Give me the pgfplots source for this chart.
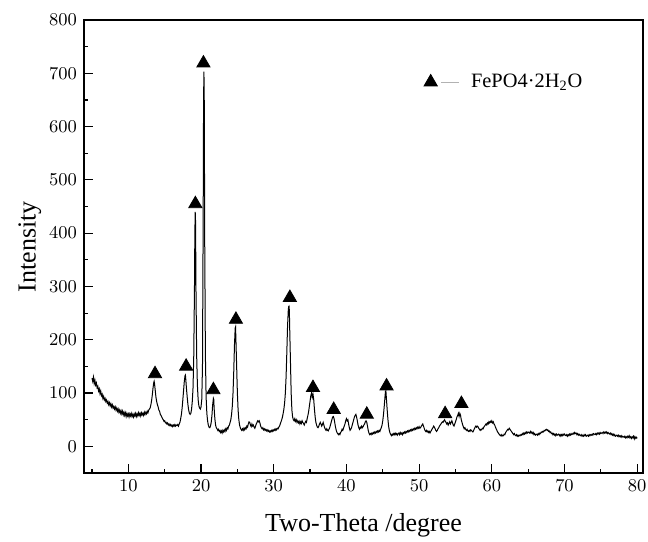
\documentclass[border=0pt]{standalone}
\usepackage{pgfplots}
\pgfplotsset{compat=1.18}
\usepackage{fontspec}
\setmainfont{Liberation Serif}
\begin{document}
\begin{tikzpicture}
\useasboundingbox (-42pt,-34pt) rectangle (282pt,236.5pt);
\begin{axis}[
 at={(0,0)}, anchor=south west,
 width=279.5pt, height=226.5pt, scale only axis,
 xmin=3.9, xmax=80.8, ymin=-50, ymax=800,
 xtick={10,20,...,80}, minor xtick={5,15,...,75},
 ytick={0,100,...,800}, minor ytick={50,150,...,750},
 xtick pos=bottom, ytick pos=left, tick align=inside,
 major tick length=4.5pt, minor tick length=2.2pt,
 axis line style={line width=0.7pt},
 every tick/.style={line width=0.6pt, black},
 tick label style={font=\fontsize{9}{10}\selectfont},
 xlabel={Two-Theta /degree}, ylabel={Intensity},
 label style={font=\fontsize{13}{15}\selectfont},
 xlabel style={at={(axis description cs:0.5,-0.115)}, anchor=center},
 ylabel style={at={(axis description cs:-0.097,0.5)}, anchor=center},
 legend style={draw=none, fill=none, inner sep=0pt, at={(axis description cs:0.607,0.863)}, anchor=west, font=\fontsize{10.2}{12}\selectfont},
 legend cell align=left,
]
\addplot[black, line width=0.5pt, no markers, forget plot] coordinates {
(5.0,128)(5.1,122)(5.2,130)(5.3,118)(5.4,124)(5.5,115)(5.6,119)(5.7,110)(5.8,113)(5.9,104)
(6.0,108)(6.1,99)(6.2,104)(6.3,95)(6.4,98)(6.5,90)(6.6,94)(6.7,87)(6.8,90)(6.9,84)
(7.0,87)(7.1,81)(7.2,84)(7.3,78)(7.4,82)(7.5,76)(7.6,80)(7.7,74)(7.8,78)(7.9,72)
(8.0,75)(8.1,70)(8.2,74)(8.3,68)(8.4,72)(8.5,66)(8.6,70)(8.7,64)(8.8,68)(8.9,62)
(9.0,67)(9.1,61)(9.2,66)(9.3,59)(9.4,64)(9.5,58)(9.6,63)(9.7,56)(9.8,62)(9.9,57)
(10.0,61)(10.1,55)(10.2,61)(10.3,57)(10.4,62)(10.5,56)(10.6,60)(10.7,55)(10.8,61)(10.9,57)
(11.0,62)(11.1,56)(11.2,61)(11.3,57)(11.4,63)(11.5,58)(11.6,62)(11.7,57)(11.8,63)(11.9,59)
(12.0,62)(12.1,58)(12.2,64)(12.3,60)(12.4,64)(12.5,61)(12.6,66)(12.7,63)(12.8,68)(12.9,70)
(13.0,72)(13.1,78)(13.2,86)(13.3,97)(13.4,110)(13.5,120)(13.55,122)(13.6,118)(13.7,105)(13.8,92)
(13.9,84)(14.0,78)(14.1,74)(14.2,68)(14.3,66)(14.4,60)(14.5,58)(14.6,55)(14.7,52)(14.8,50)
(14.9,47)(15.0,48)(15.1,44)(15.2,45)(15.3,42)(15.4,44)(15.5,40)(15.6,42)(15.7,39)(15.8,41)
(15.9,38)(16.0,40)(16.1,37)(16.2,40)(16.3,38)(16.4,41)(16.5,38)(16.6,40)(16.7,39)(16.8,41)
(16.9,38)(17.0,42)(17.1,45)(17.2,52)(17.3,60)(17.4,72)(17.5,88)(17.6,105)(17.7,122)(17.8,133)
(17.85,134)(17.9,126)(18.0,108)(18.1,92)(18.2,78)(18.3,68)(18.4,62)(18.5,60)(18.6,62)(18.7,70)
(18.8,85)(18.9,110)(19.0,170)(19.1,300)(19.15,400)(19.2,440)(19.25,420)(19.3,300)(19.4,170)(19.5,115)
(19.6,88)(19.7,76)(19.8,72)(19.9,70)(20.0,74)(20.1,88)(20.2,150)(20.3,450)(20.35,650)(20.4,703)
(20.45,640)(20.5,400)(20.6,170)(20.7,92)(20.8,62)(20.9,48)(21.0,40)(21.1,36)(21.2,35)(21.3,38)
(21.4,45)(21.5,58)(21.6,78)(21.7,90)(21.75,88)(21.8,72)(21.9,52)(22.0,40)(22.1,35)(22.2,33)
(22.3,30)(22.4,32)(22.5,28)(22.6,30)(22.7,26)(22.8,29)(22.9,25)(23.0,30)(23.1,27)(23.2,31)
(23.3,28)(23.4,33)(23.5,30)(23.6,35)(23.7,33)(23.8,38)(23.9,40)(24.0,45)(24.1,50)(24.2,60)
(24.3,75)(24.4,100)(24.5,140)(24.6,190)(24.7,222)(24.75,224)(24.8,200)(24.9,150)(25.0,100)(25.1,68)
(25.2,50)(25.3,40)(25.4,35)(25.5,32)(25.6,30)(25.7,33)(25.8,30)(25.9,34)(26.0,31)(26.1,35)
(26.2,33)(26.3,38)(26.4,36)(26.5,42)(26.6,46)(26.7,45)(26.8,40)(26.9,37)(27.0,42)(27.1,38)
(27.2,40)(27.3,36)(27.4,34)(27.5,38)(27.6,42)(27.7,45)(27.8,48)(27.9,46)(28.0,48)(28.1,44)
(28.2,38)(28.3,35)(28.4,33)(28.5,35)(28.6,31)(28.7,33)(28.8,30)(28.9,32)(29.0,29)(29.1,31)
(29.2,28)(29.3,30)(29.4,27)(29.5,29)(29.6,27)(29.7,30)(29.8,28)(29.9,31)(30.0,29)(30.1,32)
(30.2,30)(30.3,33)(30.4,31)(30.5,34)(30.6,33)(30.7,36)(30.8,38)(30.9,42)(31.0,46)(31.1,50)
(31.2,55)(31.3,62)(31.4,70)(31.5,82)(31.6,100)(31.7,130)(31.8,175)(31.9,225)(32.0,255)(32.05,262)
(32.1,263)(32.15,255)(32.2,220)(32.3,160)(32.4,100)(32.5,68)(32.6,55)(32.7,50)(32.8,48)(32.9,52)
(33.0,47)(33.1,50)(33.2,45)(33.3,48)(33.4,44)(33.5,47)(33.6,42)(33.7,46)(33.8,43)(33.9,48)
(34.0,45)(34.1,43)(34.2,40)(34.3,44)(34.4,47)(34.5,45)(34.6,52)(34.7,58)(34.8,65)(34.9,75)
(35.0,85)(35.1,95)(35.2,100)(35.3,92)(35.4,98)(35.5,88)(35.6,70)(35.7,55)(35.8,45)(35.9,40)
(36.0,36)(36.1,35)(36.2,38)(36.3,42)(36.4,45)(36.5,42)(36.6,38)(36.7,41)(36.8,45)(36.9,40)
(37.0,35)(37.1,32)(37.2,30)(37.3,33)(37.4,30)(37.5,29)(37.6,32)(37.7,35)(37.8,40)(37.9,45)
(38.0,50)(38.1,55)(38.2,56)(38.3,52)(38.4,44)(38.5,36)(38.6,30)(38.7,26)(38.8,24)(38.9,22)
(39.0,24)(39.1,22)(39.2,26)(39.3,28)(39.4,32)(39.5,30)(39.6,34)(39.7,38)(39.8,42)(39.9,48)
(40.0,52)(40.1,48)(40.2,50)(40.3,42)(40.4,35)(40.5,30)(40.6,32)(40.7,35)(40.8,40)(40.9,45)
(41.0,50)(41.1,55)(41.2,58)(41.3,60)(41.4,55)(41.5,48)(41.6,40)(41.7,35)(41.8,32)(41.9,36)
(42.0,34)(42.1,38)(42.2,35)(42.3,37)(42.4,40)(42.5,42)(42.6,46)(42.7,48)(42.8,45)(42.9,38)
(43.0,30)(43.1,25)(43.2,22)(43.3,24)(43.4,22)(43.5,25)(43.6,23)(43.7,26)(43.8,24)(43.9,27)
(44.0,25)(44.1,28)(44.2,26)(44.3,29)(44.4,27)(44.5,30)(44.6,28)(44.7,32)(44.8,35)(44.9,40)
(45.0,48)(45.1,60)(45.2,75)(45.3,92)(45.35,100)(45.4,96)(45.45,100)(45.5,90)(45.6,70)(45.7,52)
(45.8,38)(45.9,30)(46.0,25)(46.1,22)(46.2,20)(46.3,23)(46.4,21)(46.5,24)(46.6,22)(46.7,25)
(46.8,22)(46.9,24)(47.0,21)(47.1,24)(47.2,25)(47.3,22)(47.4,26)(47.5,23)(47.6,25)(47.7,22)
(47.8,26)(47.9,24)(48.0,27)(48.1,25)(48.2,28)(48.3,26)(48.4,29)(48.5,27)(48.6,30)(48.7,28)
(48.8,31)(48.9,29)(49.0,32)(49.1,30)(49.2,33)(49.3,31)(49.4,34)(49.5,32)(49.6,35)(49.7,33)
(49.8,36)(49.9,34)(50.0,37)(50.1,34)(50.2,35)(50.3,38)(50.4,40)(50.5,42)(50.6,38)(50.7,34)
(50.8,30)(50.9,28)(51.0,30)(51.1,27)(51.2,29)(51.3,26)(51.4,28)(51.5,25)(51.6,28)(51.7,30)
(51.8,33)(51.9,35)(52.0,38)(52.1,36)(52.2,33)(52.3,30)(52.4,28)(52.5,30)(52.6,33)(52.7,35)
(52.8,38)(52.9,40)(53.0,42)(53.1,44)(53.2,46)(53.3,45)(53.4,48)(53.5,50)(53.6,47)(53.7,45)
(53.8,42)(53.9,44)(54.0,40)(54.1,43)(54.2,46)(54.3,42)(54.4,45)(54.5,48)(54.6,44)(54.7,40)
(54.8,38)(54.9,42)(55.0,46)(55.1,50)(55.2,55)(55.3,58)(55.4,62)(55.5,56)(55.6,62)(55.7,58)
(55.8,50)(55.9,45)(56.0,40)(56.1,36)(56.2,33)(56.3,35)(56.4,32)(56.5,30)(56.6,32)(56.7,29)
(56.8,28)(56.9,30)(57.0,28)(57.1,31)(57.2,30)(57.3,28)(57.4,27)(57.5,30)(57.6,33)(57.7,36)
(57.8,38)(57.9,36)(58.0,38)(58.1,37)(58.2,34)(58.3,32)(58.4,30)(58.5,32)(58.6,31)(58.7,34)
(58.8,33)(58.9,36)(59.0,38)(59.1,40)(59.2,42)(59.3,40)(59.4,44)(59.5,42)(59.6,46)(59.7,44)
(59.8,47)(59.9,45)(60.0,48)(60.1,44)(60.2,46)(60.3,42)(60.4,40)(60.5,36)(60.6,33)(60.7,30)
(60.8,27)(60.9,25)(61.0,23)(61.1,21)(61.2,20)(61.3,22)(61.4,19)(61.5,21)(61.6,20)(61.7,23)
(61.8,22)(61.9,26)(62.0,28)(62.1,30)(62.2,32)(62.3,31)(62.4,34)(62.5,32)(62.6,30)(62.7,28)
(62.8,26)(62.9,24)(63.0,22)(63.1,24)(63.2,21)(63.3,20)(63.4,22)(63.5,19)(63.6,21)(63.7,19)
(63.8,21)(63.9,20)(64.0,22)(64.1,21)(64.2,24)(64.3,22)(64.4,25)(64.5,23)(64.6,26)(64.7,24)
(64.8,27)(64.9,25)(65.0,27)(65.1,26)(65.2,25)(65.3,28)(65.4,25)(65.5,27)(65.6,24)(65.7,26)
(65.8,22)(65.9,24)(66.0,21)(66.1,22)(66.2,23)(66.3,21)(66.4,24)(66.5,22)(66.6,25)(66.7,24)
(66.8,27)(66.9,26)(67.0,28)(67.1,27)(67.2,30)(67.3,29)(67.4,31)(67.5,32)(67.6,30)(67.7,31)
(67.8,28)(67.9,29)(68.0,26)(68.1,27)(68.2,24)(68.3,25)(68.4,22)(68.5,24)(68.6,21)(68.7,23)
(68.8,20)(68.9,23)(69.0,21)(69.1,22)(69.2,23)(69.3,20)(69.4,22)(69.5,19)(69.6,22)(69.7,20)
(69.8,23)(69.9,21)(70.0,23)(70.1,21)(70.2,20)(70.3,22)(70.4,19)(70.5,22)(70.6,20)(70.7,23)
(70.8,21)(70.9,24)(71.0,22)(71.1,23)(71.2,25)(71.3,23)(71.4,26)(71.5,24)(71.6,25)(71.7,22)
(71.8,24)(71.9,21)(72.0,23)(72.1,21)(72.2,20)(72.3,22)(72.4,19)(72.5,21)(72.6,19)(72.7,22)
(72.8,20)(72.9,22)(73.0,19)(73.1,20)(73.2,21)(73.3,19)(73.4,22)(73.5,20)(73.6,22)(73.7,21)
(73.8,23)(73.9,21)(74.0,24)(74.1,23)(74.2,22)(74.3,24)(74.4,22)(74.5,25)(74.6,23)(74.7,25)
(74.8,23)(74.9,26)(75.0,24)(75.1,25)(75.2,26)(75.3,24)(75.4,27)(75.5,25)(75.6,27)(75.7,25)
(75.8,27)(75.9,24)(76.0,26)(76.1,24)(76.2,23)(76.3,25)(76.4,22)(76.5,24)(76.6,21)(76.7,23)
(76.8,20)(76.9,22)(77.0,19)(77.1,20)(77.2,21)(77.3,19)(77.4,21)(77.5,18)(77.6,20)(77.7,18)
(77.8,20)(77.9,17)(78.0,19)(78.1,18)(78.2,17)(78.3,19)(78.4,16)(78.5,18)(78.6,16)(78.7,19)
(78.8,17)(78.9,20)(79.0,16)(79.1,18)(79.2,15)(79.3,18)(79.4,16)(79.5,19)(79.6,14)(79.7,18)
(79.8,15)(79.9,17)(80.0,15)
};
\addplot[only marks, mark=triangle*, mark size=3.8pt, black, mark options={fill=black}, forget plot] coordinates {
(13.67,136)(17.95,150)(19.22,455)(20.33,719)(21.7,106)(24.8,238)(32.22,279)(35.4,110)(38.25,69)(42.8,60)(45.52,113)(53.58,61)(55.82,80)
};
\addlegendimage{legend image code/.code={
 \draw[gray!60, line width=0.5pt] (5.3pt,0pt) -- (14pt,0pt);
 \fill[black] (0pt,3.8pt) -- (-3.29pt,-1.9pt) -- (3.29pt,-1.9pt) -- cycle;
 \path (18pt,0pt);
}}
\addlegendentry{FePO4·2H\textsubscript{2}O}
\end{axis}
\end{tikzpicture}
\end{document}
